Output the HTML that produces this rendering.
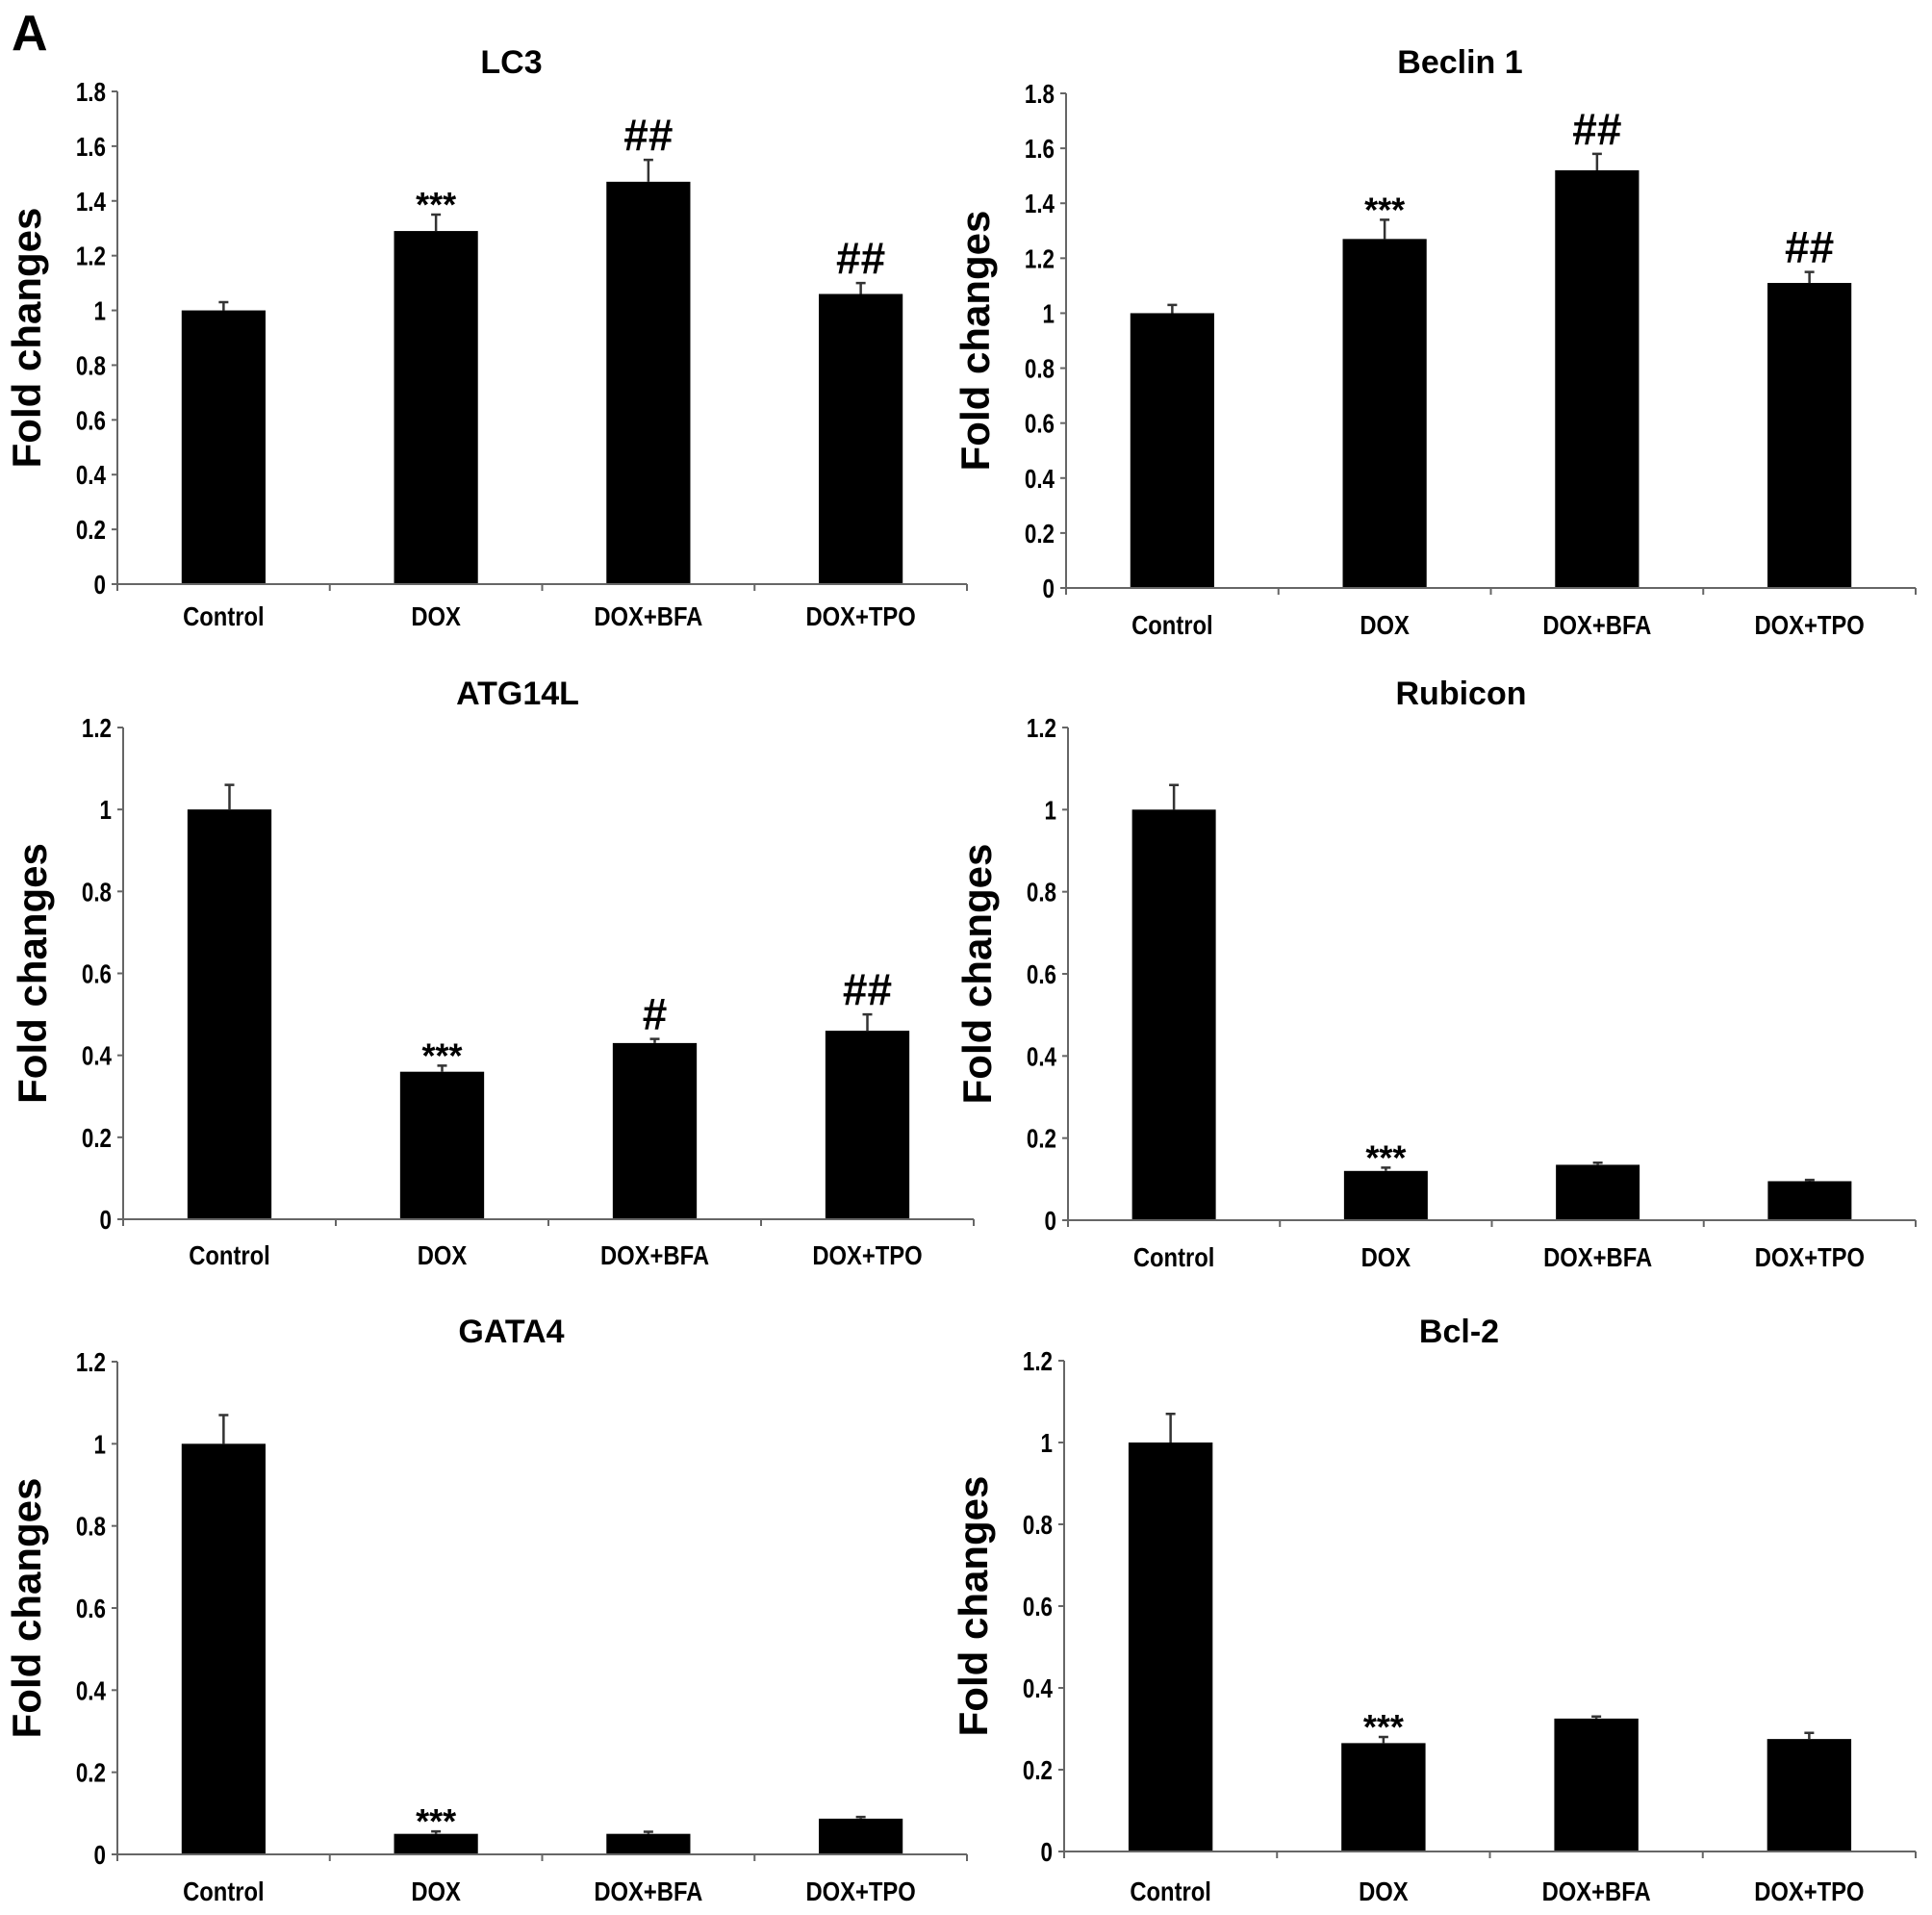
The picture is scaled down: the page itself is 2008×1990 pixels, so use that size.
<!DOCTYPE html>
<html><head><meta charset="utf-8"><style>
html,body{margin:0;padding:0;background:#fff;}
svg{display:block;font-family:"Liberation Sans",Arial,sans-serif;}
</style></head><body>
<svg id="fig" width="2008" height="1990" viewBox="0 0 2008 1990">
<text x="12" y="52" font-size="52" font-weight="bold">A</text>
</svg>
<script>
const categories = ["Control","DOX","DOX+BFA","DOX+TPO"];
const lc3Values = [1.0,1.29,1.47,1.06];
const lc3Errors = [0.03,0.06,0.08,0.04];
const lc3Marks = ["","***","##","##"];
const beclinValues = [1.0,1.27,1.52,1.11];
const beclinErrors = [0.03,0.07,0.06,0.04];
const beclinMarks = ["","***","##","##"];
const atgValues = [1.0,0.36,0.43,0.46];
const atgErrors = [0.06,0.015,0.01,0.04];
const atgMarks = ["","***","#","##"];
const rubiconValues = [1.0,0.12,0.135,0.095];
const rubiconErrors = [0.06,0.008,0.005,0.003];
const rubiconMarks = ["","***","",""];
const gataValues = [1.0,0.05,0.05,0.087];
const gataErrors = [0.07,0.006,0.005,0.004];
const gataMarks = ["","***","",""];
const bclValues = [1.0,0.265,0.325,0.275];
const bclErrors = [0.07,0.015,0.005,0.015];
const bclMarks = ["","***","",""];
const ticksHigh = [0,0.2,0.4,0.6,0.8,1,1.2,1.4,1.6,1.8];
const ticksLow = [0,0.2,0.4,0.6,0.8,1,1.2];

const NS="http://www.w3.org/2000/svg";
const svg=document.getElementById('fig');
function mk(tag,attrs,parent){const e=document.createElementNS(NS,tag);for(const k in attrs)e.setAttribute(k,attrs[k]);(parent||svg).appendChild(e);return e;}

const panels=[
 {name:"lc3",title:"LC3",v:lc3Values,e:lc3Errors,m:lc3Marks,t:ticksHigh,ax:122,top:95,zero:607,xe:1005,ty:76,ly:650},
 {name:"beclin-1",title:"Beclin 1",v:beclinValues,e:beclinErrors,m:beclinMarks,t:ticksHigh,ax:1108,top:97,zero:611,xe:1991,ty:76,ly:659},
 {name:"atg14l",title:"ATG14L",v:atgValues,e:atgErrors,m:atgMarks,t:ticksLow,ax:128,top:756,zero:1267,xe:1012,ty:732,ly:1314},
 {name:"rubicon",title:"Rubicon",v:rubiconValues,e:rubiconErrors,m:rubiconMarks,t:ticksLow,ax:1110,top:756,zero:1268,xe:1991,ty:732,ly:1316},
 {name:"gata4",title:"GATA4",v:gataValues,e:gataErrors,m:gataMarks,t:ticksLow,ax:122,top:1415,zero:1927,xe:1005,ty:1395,ly:1975},
 {name:"bcl-2",title:"Bcl-2",v:bclValues,e:bclErrors,m:bclMarks,t:ticksLow,ax:1106,top:1414,zero:1924,xe:1991,ty:1395,ly:1975}
];

panels.forEach(p=>{
 const g=mk('g',{});
 
 
 const tmax=p.t[p.t.length-1];
 const y=v=>p.zero-(v/tmax)*(p.zero-p.top);
 const slot=(p.xe-p.ax)/categories.length;
 const xc=i=>p.ax+slot*(i+0.5);
 const bw=slot*0.395;
 const cx=(p.ax+p.xe)/2;
 const title=mk('text',{x:cx-32,y:p.ty,'font-size':34,'font-weight':'bold','text-anchor':'middle'},g);
 title.textContent=p.title;
 
 
 const yl=mk('text',{x:0,y:0,'font-size':42,'font-weight':'bold','text-anchor':'middle',transform:`translate(${p.ax-80},${(p.top+p.zero)/2}) rotate(-90)`},g);
 yl.textContent="Fold changes";
 
 
 p.v.forEach((v,i)=>{
  const r=mk('rect',{x:xc(i)-bw/2,y:y(v),width:bw,height:p.zero-y(v),fill:'#000'},g);
  
  
  const et=y(v+p.e[i]);
  const eb=mk('path',{d:`M${xc(i)} ${y(v)} V${et} M${xc(i)-5} ${et} H${xc(i)+5}`,stroke:'#333','stroke-width':2.5,fill:'none'},g);
  
  
  if(p.m[i]){
   const isHash=p.m[i].indexOf('#')>=0;
   const a=mk('text',{x:xc(i),y:isHash?et-10:et+2,'font-size':isHash?46:36,'font-weight':'bold','text-anchor':'middle'},g);
   a.textContent=p.m[i];
   
   
  }
  const cl=mk('text',{x:xc(i),y:p.ly,'font-size':28,'font-weight':'bold','text-anchor':'middle'},g);
  cl.setAttribute('transform',`translate(${xc(i)},0) scale(0.85,1) translate(${-xc(i)},0)`);
  cl.textContent=categories[i];
  
  
 });
 const axl=mk('path',{d:`M${p.ax} ${p.top} V${p.zero} H${p.xe}`,stroke:'#666','stroke-width':2,fill:'none'},g);
 
 
 for(let i=0;i<=categories.length;i++){
  const xx=p.ax+slot*i;
  const tk=mk('line',{x1:xx,x2:xx,y1:p.zero,y2:p.zero+7,stroke:'#666','stroke-width':2},g);
  
  
 }
 p.t.forEach(t=>{
  const tk=mk('line',{x1:p.ax-6,x2:p.ax,y1:y(t),y2:y(t),stroke:'#666','stroke-width':2},g);
  
  
  const lx=p.ax-12;
  const tl=mk('text',{x:lx,y:y(t)+10,'font-size':28,'font-weight':'bold','text-anchor':'end',transform:`translate(${lx},0) scale(0.8,1) translate(${-lx},0)`},g);
  tl.textContent=String(t);
  
  
 });
});
</script>
</body></html>
